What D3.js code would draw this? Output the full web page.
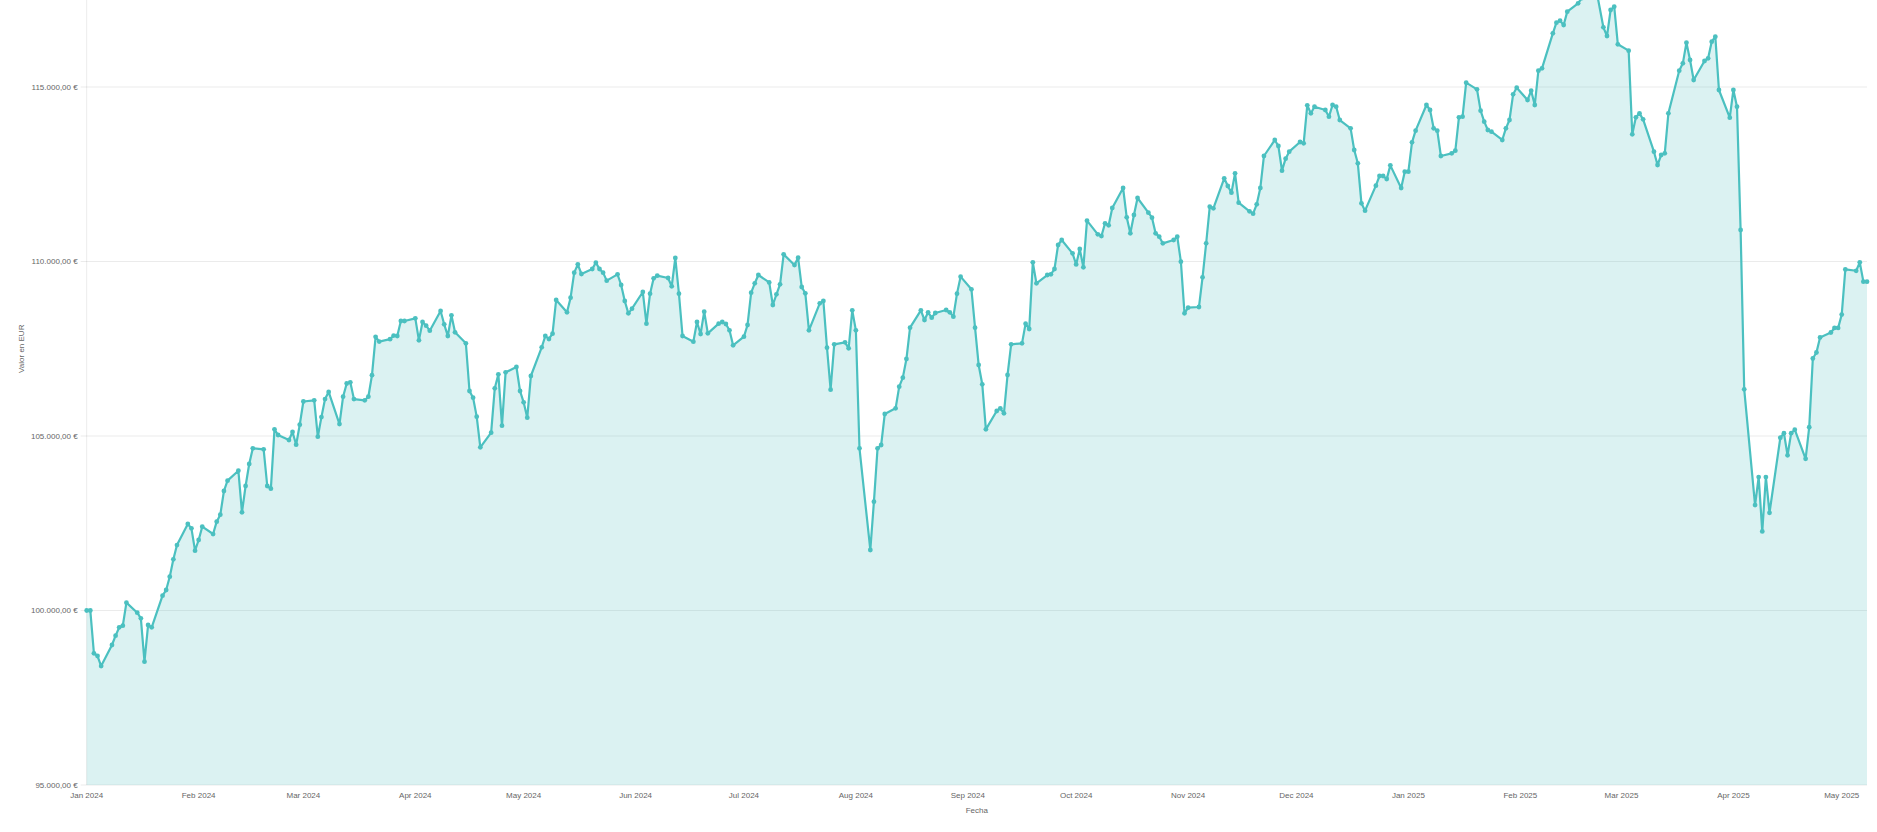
<!DOCTYPE html>
<html>
<head>
<meta charset="utf-8">
<script src="https://cdn.jsdelivr.net/npm/d3@7"></script>
<style>
html,body{margin:0;padding:0;background:#fff;overflow:hidden;}
text{font-family:"Liberation Sans",Arial,Helvetica,sans-serif;fill:#666;}
</style>
</head>
<body>
<svg id="chart" width="1877" height="832"></svg>
<script>
const dates = [
"2024-01-01","2024-01-02","2024-01-03","2024-01-04","2024-01-05","2024-01-08","2024-01-09","2024-01-10","2024-01-11","2024-01-12",
"2024-01-15","2024-01-16","2024-01-17","2024-01-18","2024-01-19","2024-01-22","2024-01-23","2024-01-24","2024-01-25","2024-01-26",
"2024-01-29","2024-01-30","2024-01-31","2024-02-01","2024-02-02","2024-02-05","2024-02-06","2024-02-07","2024-02-08","2024-02-09",
"2024-02-12","2024-02-13","2024-02-14","2024-02-15","2024-02-16","2024-02-19","2024-02-20","2024-02-21","2024-02-22","2024-02-23",
"2024-02-26","2024-02-27","2024-02-28","2024-02-29","2024-03-01","2024-03-04","2024-03-05","2024-03-06","2024-03-07","2024-03-08",
"2024-03-11","2024-03-12","2024-03-13","2024-03-14","2024-03-15","2024-03-18","2024-03-19","2024-03-20","2024-03-21","2024-03-22",
"2024-03-25","2024-03-26","2024-03-27","2024-03-28","2024-03-29","2024-04-01","2024-04-02","2024-04-03","2024-04-04","2024-04-05",
"2024-04-08","2024-04-09","2024-04-10","2024-04-11","2024-04-12","2024-04-15","2024-04-16","2024-04-17","2024-04-18","2024-04-19",
"2024-04-22","2024-04-23","2024-04-24","2024-04-25","2024-04-26","2024-04-29","2024-04-30","2024-05-01","2024-05-02","2024-05-03",
"2024-05-06","2024-05-07","2024-05-08","2024-05-09","2024-05-10","2024-05-13","2024-05-14","2024-05-15","2024-05-16","2024-05-17",
"2024-05-20","2024-05-21","2024-05-22","2024-05-23","2024-05-24","2024-05-27","2024-05-28","2024-05-29","2024-05-30","2024-05-31",
"2024-06-03","2024-06-04","2024-06-05","2024-06-06","2024-06-07","2024-06-10","2024-06-11","2024-06-12","2024-06-13","2024-06-14",
"2024-06-17","2024-06-18","2024-06-19","2024-06-20","2024-06-21","2024-06-24","2024-06-25","2024-06-26","2024-06-27","2024-06-28",
"2024-07-01","2024-07-02","2024-07-03","2024-07-04","2024-07-05","2024-07-08","2024-07-09","2024-07-10","2024-07-11","2024-07-12",
"2024-07-15","2024-07-16","2024-07-17","2024-07-18","2024-07-19","2024-07-22","2024-07-23","2024-07-24","2024-07-25","2024-07-26",
"2024-07-29","2024-07-30","2024-07-31","2024-08-01","2024-08-02","2024-08-05","2024-08-06","2024-08-07","2024-08-08","2024-08-09",
"2024-08-12","2024-08-13","2024-08-14","2024-08-15","2024-08-16","2024-08-19","2024-08-20","2024-08-21","2024-08-22","2024-08-23",
"2024-08-26","2024-08-27","2024-08-28","2024-08-29","2024-08-30","2024-09-02","2024-09-03","2024-09-04","2024-09-05","2024-09-06",
"2024-09-09","2024-09-10","2024-09-11","2024-09-12","2024-09-13","2024-09-16","2024-09-17","2024-09-18","2024-09-19","2024-09-20",
"2024-09-23","2024-09-24","2024-09-25","2024-09-26","2024-09-27","2024-09-30","2024-10-01","2024-10-02","2024-10-03","2024-10-04",
"2024-10-07","2024-10-08","2024-10-09","2024-10-10","2024-10-11","2024-10-14","2024-10-15","2024-10-16","2024-10-17","2024-10-18",
"2024-10-21","2024-10-22","2024-10-23","2024-10-24","2024-10-25","2024-10-28","2024-10-29","2024-10-30","2024-10-31","2024-11-01",
"2024-11-04","2024-11-05","2024-11-06","2024-11-07","2024-11-08","2024-11-11","2024-11-12","2024-11-13","2024-11-14","2024-11-15",
"2024-11-18","2024-11-19","2024-11-20","2024-11-21","2024-11-22","2024-11-25","2024-11-26","2024-11-27","2024-11-28","2024-11-29",
"2024-12-02","2024-12-03","2024-12-04","2024-12-05","2024-12-06","2024-12-09","2024-12-10","2024-12-11","2024-12-12","2024-12-13",
"2024-12-16","2024-12-17","2024-12-18","2024-12-19","2024-12-20","2024-12-23","2024-12-24","2024-12-25","2024-12-26","2024-12-27",
"2024-12-30","2024-12-31","2025-01-01","2025-01-02","2025-01-03","2025-01-06","2025-01-07","2025-01-08","2025-01-09","2025-01-10",
"2025-01-13","2025-01-14","2025-01-15","2025-01-16","2025-01-17","2025-01-20","2025-01-21","2025-01-22","2025-01-23","2025-01-24",
"2025-01-27","2025-01-28","2025-01-29","2025-01-30","2025-01-31","2025-02-03","2025-02-04","2025-02-05","2025-02-06","2025-02-07",
"2025-02-10","2025-02-11","2025-02-12","2025-02-13","2025-02-14","2025-02-17","2025-02-18","2025-02-19","2025-02-20","2025-02-21",
"2025-02-24","2025-02-25","2025-02-26","2025-02-27","2025-02-28","2025-03-03","2025-03-04","2025-03-05","2025-03-06","2025-03-07",
"2025-03-10","2025-03-11","2025-03-12","2025-03-13","2025-03-14","2025-03-17","2025-03-18","2025-03-19","2025-03-20","2025-03-21",
"2025-03-24","2025-03-25","2025-03-26","2025-03-27","2025-03-28","2025-03-31","2025-04-01","2025-04-02","2025-04-03","2025-04-04",
"2025-04-07","2025-04-08","2025-04-09","2025-04-10","2025-04-11","2025-04-14","2025-04-15","2025-04-16","2025-04-17","2025-04-18",
"2025-04-21","2025-04-22","2025-04-23","2025-04-24","2025-04-25","2025-04-28","2025-04-29","2025-04-30","2025-05-01","2025-05-02",
"2025-05-05","2025-05-06","2025-05-07","2025-05-08"
];
const values = [
100000,100000,98772,98696,98409,99011,99278,99517,99565,100224,
99937,99775,98534,99584,99517,100425,100587,100969,101466,101876,
102478,102354,101714,102020,102402,102191,102545,102745,103424,103720,
104006,102812,103567,104197,104646,104618,103567,103491,105191,105028,
104885,105114,104751,105324,105989,106023,104980,105542,106058,106264,
105343,106126,106504,106538,106058,106023,106126,106744,107843,107706,
107774,107877,107865,108295,108295,108372,107741,108267,108161,108018,
108582,108200,107865,108458,107970,107655,106289,106098,105554,104676,
105096,106366,106767,105296,106824,106977,106289,105965,105526,106719,
107541,107865,107780,107932,108897,108543,108964,109680,109919,109642,
109785,109967,109785,109680,109451,109632,109327,108868,108515,108649,
109126,108219,109078,109518,109594,109527,109288,110100,109078,107865,
107703,108267,107923,108563,107942,108219,108267,108209,108028,107598,
107846,108181,109107,109375,109613,109400,108754,109059,109346,110205,
109900,110110,109270,109088,108028,108802,108869,107531,106328,107627,
107684,107512,108601,108028,104647,101734,103119,104647,104742,105631,
105793,106414,106672,107206,108104,108601,108324,108544,108391,108525,
108610,108544,108420,109079,109566,109203,108104,107035,106481,105191,
105716,105793,105650,106748,107627,107655,108219,108066,109976,109375,
109613,109632,109785,110473,110616,110234,109915,110358,109833,111170,
110778,110731,111094,111036,111533,112106,111266,110807,111332,111820,
111399,111256,110807,110712,110520,110616,110712,109995,108515,108677,
108696,109546,110520,111571,111523,112383,112163,111972,112526,111686,
111437,111371,111638,112106,113023,113481,113310,112603,112946,113147,
113424,113386,114475,114245,114436,114341,114150,114484,114436,114054,
113816,113195,112813,111667,111457,112173,112450,112450,112364,112755,
112106,112574,112574,113414,113749,114484,114341,113816,113749,113023,
113099,113176,114131,114150,115124,114933,114322,114007,113768,113720,
113482,113816,114055,114790,114981,114628,114895,114484,115468,115535,
116538,116844,116901,116777,117159,117398,117550,117900,118200,118350,
116710,116462,117206,117302,116223,116041,113644,114131,114246,114074,
113147,112765,113052,113099,114246,115468,115678,116270,115774,115201,
115745,115822,116299,116442,114914,114121,114914,114437,110903,106337,
103020,103824,102267,103824,102799,104950,105081,104447,105081,105181,
104347,105251,107221,107392,107824,107965,108096,108096,108478,109774,
109734,109975,109422,109422
];
const yTicks = [95000, 100000, 105000, 110000, 115000];
const yLabel = "Valor en EUR";
const xLabel = "Fecha";

(function () {
  const parse = d3.timeParse("%Y-%m-%d");
  const data = dates.map((d, i) => ({date: parse(d), value: values[i]}));

  const svg = d3.select("#chart");
  const mLeft = 86.7, mRight = 1867, mBottom = 785, mTop = -87.5;

  const x = d3.scaleTime().domain(d3.extent(data, d => d.date)).range([mLeft, mRight]);
  const y = d3.scaleLinear().domain([95000, 120000]).range([mBottom, mTop]);

  const locale = d3.formatLocale({decimal: ",", thousands: ".", grouping: [3], currency: ["", "\u00a0€"]});
  const fmt = locale.format("$,.2f");

  const grid = svg.append("g");
  grid.selectAll("line.h").data(yTicks).join("line")
    .attr("x1", mLeft - 6).attr("x2", mRight)
    .attr("y1", d => y(d)).attr("y2", d => y(d))
    .attr("stroke", "rgba(0,0,0,0.08)").attr("stroke-width", 1);
  grid.append("line").attr("x1", mLeft).attr("x2", mLeft).attr("y1", mTop).attr("y2", mBottom)
    .attr("stroke", "rgba(0,0,0,0.08)").attr("stroke-width", 1);

  svg.append("g").selectAll("text").data(yTicks).join("text")
    .attr("x", mLeft - 9).attr("y", d => y(d)).attr("dy", "0.35em")
    .attr("text-anchor", "end").attr("font-size", 8).text(d => fmt(d));

  const xTicks = x.ticks(d3.timeMonth.every(1));
  const mfmt = d3.timeFormat("%b %Y");
  svg.append("g").selectAll("text").data(xTicks).join("text")
    .attr("x", d => x(d)).attr("y", 798).attr("text-anchor", "middle")
    .attr("font-size", 8).text(d => mfmt(d));

  svg.append("text").attr("x", (mLeft + mRight) / 2).attr("y", 813).attr("text-anchor", "middle")
    .attr("font-size", 8).text(xLabel);
  svg.append("text").attr("transform", `translate(24,${(mTop + mBottom) / 2}) rotate(-90)`)
    .attr("text-anchor", "middle").attr("font-size", 8).text(yLabel);

  const color = "rgb(75,192,192)";
  const area = d3.area().x(d => x(d.date)).y0(y(95000)).y1(d => y(d.value));
  const line = d3.line().x(d => x(d.date)).y(d => y(d.value));

  svg.append("path").datum(data).attr("d", area).attr("fill", "rgba(75,192,192,0.2)");
  svg.append("path").datum(data).attr("d", line).attr("fill", "none")
    .attr("stroke", color).attr("stroke-width", 2.2).attr("stroke-linejoin", "round");
  svg.append("g").selectAll("circle").data(data).join("circle")
    .attr("cx", d => x(d.date)).attr("cy", d => y(d.value)).attr("r", 2.4)
    .attr("fill", color);
})();
</script>
</body>
</html>
